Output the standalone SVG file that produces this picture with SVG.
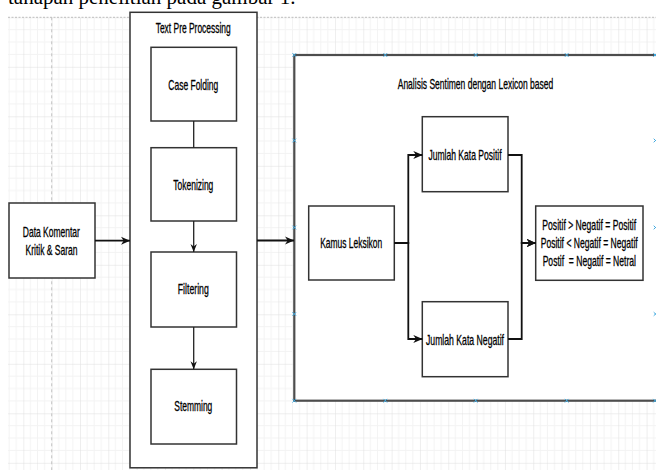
<svg xmlns="http://www.w3.org/2000/svg" width="656" height="470" viewBox="0 0 656 470">
  <defs>
    <pattern id="grid" patternUnits="userSpaceOnUse" x="-5" y="17.3" width="28.33" height="49.5">
      <g stroke="#f3f3f3" stroke-width="1">
        <line x1="7.08" y1="0" x2="7.08" y2="49.5"/>
        <line x1="14.17" y1="0" x2="14.17" y2="49.5"/>
        <line x1="21.25" y1="0" x2="21.25" y2="49.5"/>
        <line x1="0" y1="12.4" x2="28.33" y2="12.4"/>
        <line x1="0" y1="24.75" x2="28.33" y2="24.75"/>
        <line x1="0" y1="37.1" x2="28.33" y2="37.1"/>
      </g>
      <g stroke="#dedede" stroke-width="1">
        <line x1="0" y1="0" x2="0" y2="49.5"/>
        <line x1="0" y1="0" x2="28.33" y2="0"/>
      </g>
    </pattern>
    <marker id="arrS" viewBox="0 0 10 10" refX="10" refY="5" markerWidth="8" markerHeight="8" orient="auto" markerUnits="userSpaceOnUse">
      <path d="M0,1 L10,5 L0,9 L3,5 Z" fill="#111"/>
    </marker>
    <marker id="arrB" viewBox="0 0 10 10" refX="10" refY="5" markerWidth="9" markerHeight="9" orient="auto" markerUnits="userSpaceOnUse">
      <path d="M0,0.5 L10,5 L0,9.5 L3,5 Z" fill="#111"/>
    </marker>
    <g id="xm"><path d="M-1.8,-1.8 L1.8,1.8 M-1.8,1.8 L1.8,-1.8" stroke="#3fa9e0" stroke-width="1"/></g>
  </defs>
  <style>
    .box { fill: #ffffff; stroke: #333333; stroke-width: 1.5; }
    .big { fill: #ffffff; stroke: #4d4d4d; stroke-width: 2.2; }
    .lbl { font-family: "Liberation Sans", Arial, sans-serif; font-size: 14px; fill: #000000; stroke: #000000; stroke-width: 0.3; text-anchor: middle; }
    .ln { fill: none; stroke: #222222; stroke-width: 1.3; }
    .lnb { fill: none; stroke: #111111; stroke-width: 1.8; }
    .hdr { font-family: "Liberation Serif", "Times New Roman", serif; font-size: 21px; fill: #000; }
  </style>

  <rect x="0" y="0" width="656" height="470" fill="#ffffff"/>
  <rect x="8" y="17.3" width="648" height="453" fill="url(#grid)"/>
  <line x1="8" y1="17.3" x2="656" y2="17.3" stroke="#bdbdbd" stroke-width="1" stroke-dasharray="2,1.5"/>
  <line x1="51.7" y1="17.3" x2="51.7" y2="470" stroke="#c4c4c4" stroke-width="1" stroke-dasharray="3,3"/>

  <text class="hdr" x="8" y="4">tahapan penelitian pada gambar 1.</text>

  <g id="preprocessing">
    <rect class="box" x="130" y="12.3" width="127" height="455.5"/>
    <text class="lbl" transform="translate(193.2,32.5) scale(0.6,1)" textLength="125" lengthAdjust="spacingAndGlyphs">Text Pre Processing</text>
  </g>

  <g id="data-komentar">
    <rect class="box" x="9" y="203" width="86" height="75"/>
    <text class="lbl" transform="translate(51.3,236.5) scale(0.6,1)" textLength="95" lengthAdjust="spacingAndGlyphs">Data Komentar</text>
    <text class="lbl" transform="translate(51.5,255) scale(0.6,1)" textLength="86.7" lengthAdjust="spacingAndGlyphs">Kritik &amp; Saran</text>
  </g>

  <g id="case-folding">
    <rect class="box" x="151" y="47.3" width="85.5" height="73.7"/>
    <text class="lbl" transform="translate(193.3,89.5) scale(0.6,1)" textLength="83.3" lengthAdjust="spacingAndGlyphs">Case Folding</text>
  </g>

  <g id="tokenizing">
    <rect class="box" x="151" y="147.7" width="85.5" height="73.3"/>
    <text class="lbl" transform="translate(193.3,189.5) scale(0.6,1)" textLength="66.7" lengthAdjust="spacingAndGlyphs">Tokenizing</text>
  </g>

  <g id="filtering">
    <rect class="box" x="151" y="252" width="85.5" height="75"/>
    <text class="lbl" transform="translate(193.3,294) scale(0.6,1)" textLength="51.7" lengthAdjust="spacingAndGlyphs">Filtering</text>
  </g>

  <g id="stemming">
    <rect class="box" x="151" y="369.3" width="85.5" height="74.7"/>
    <text class="lbl" transform="translate(193.3,411) scale(0.6,1)" textLength="63.3" lengthAdjust="spacingAndGlyphs">Stemming</text>
  </g>

  <g id="analisis-sentimen">
    <rect class="big" x="294.3" y="55" width="364" height="345.7"/>
    <text class="lbl" transform="translate(475.5,88.5) scale(0.6,1)" textLength="259.3" lengthAdjust="spacingAndGlyphs">Analisis Sentimen dengan Lexicon based</text>
    <use href="#xm" x="294.3" y="55"/>
    <use href="#xm" x="385.3" y="55"/>
    <use href="#xm" x="475.7" y="55"/>
    <use href="#xm" x="566.7" y="55"/>
    <use href="#xm" x="655" y="55"/>
    <use href="#xm" x="294.3" y="400.7"/>
    <use href="#xm" x="385.3" y="400.7"/>
    <use href="#xm" x="475.7" y="400.7"/>
    <use href="#xm" x="566.7" y="400.7"/>
    <use href="#xm" x="655" y="400.7"/>
    <use href="#xm" x="294.3" y="140.5"/>
    <use href="#xm" x="294.3" y="227.5"/>
    <use href="#xm" x="294.3" y="314"/>
    <use href="#xm" x="655.5" y="140.5"/>
    <use href="#xm" x="655.5" y="227.5"/>
    <use href="#xm" x="655.5" y="314"/>
  </g>

  <g id="kamus-leksikon">
    <rect class="box" x="308.7" y="206" width="85.6" height="74"/>
    <text class="lbl" transform="translate(351.2,247.5) scale(0.6,1)" textLength="103.3" lengthAdjust="spacingAndGlyphs">Kamus Leksikon</text>
  </g>

  <g id="jumlah-positif">
    <rect class="box" x="422.3" y="116.7" width="85.7" height="75"/>
    <text class="lbl" transform="translate(465,159.5) scale(0.6,1)" textLength="121.7" lengthAdjust="spacingAndGlyphs">Jumlah Kata Positif</text>
  </g>

  <g id="jumlah-negatif">
    <rect class="box" x="422.3" y="301.7" width="85.7" height="75"/>
    <text class="lbl" transform="translate(465,344.5) scale(0.6,1)" textLength="130" lengthAdjust="spacingAndGlyphs">Jumlah Kata Negatif</text>
  </g>

  <g id="hasil">
    <rect class="box" x="535.7" y="206" width="107.3" height="74.3"/>
    <text class="lbl" transform="translate(589.2,229.5) scale(0.6,1)" textLength="156.2" lengthAdjust="spacingAndGlyphs">Positif &gt; Negatif = Positif</text>
    <text class="lbl" transform="translate(589.2,247.5) scale(0.6,1)" textLength="161.7" lengthAdjust="spacingAndGlyphs">Positif &lt; Negatif = Negatif</text>
    <text class="lbl" transform="translate(589.3,265.5) scale(0.6,1)" textLength="155.5" lengthAdjust="spacingAndGlyphs" xml:space="preserve">Postif  = Negatif = Netral</text>
  </g>

  <g id="connectors">
    <line class="lnb" x1="95" y1="240.7" x2="130" y2="240.7" marker-end="url(#arrB)"/>
    <line class="lnb" x1="257" y1="240.5" x2="294" y2="240.5" marker-end="url(#arrB)"/>
    <line class="ln" x1="193.7" y1="121" x2="193.7" y2="147.7"/>
    <line class="ln" x1="193.7" y1="221" x2="193.7" y2="252" marker-end="url(#arrS)"/>
    <line class="ln" x1="193.7" y1="327" x2="193.7" y2="369.3" marker-end="url(#arrS)"/>
    <polyline class="lnb" points="394.3,243 408.3,243 408.3,155 422.3,155" marker-end="url(#arrB)"/>
    <polyline class="lnb" points="394.3,243 408.3,243 408.3,339 422.3,339" marker-end="url(#arrB)"/>
    <polyline class="lnb" points="508,155 521.7,155 521.7,243 535.7,243" marker-end="url(#arrB)"/>
    <polyline class="lnb" points="508,339 521.7,339 521.7,243 535.7,243" marker-end="url(#arrB)"/>
  </g>
</svg>
